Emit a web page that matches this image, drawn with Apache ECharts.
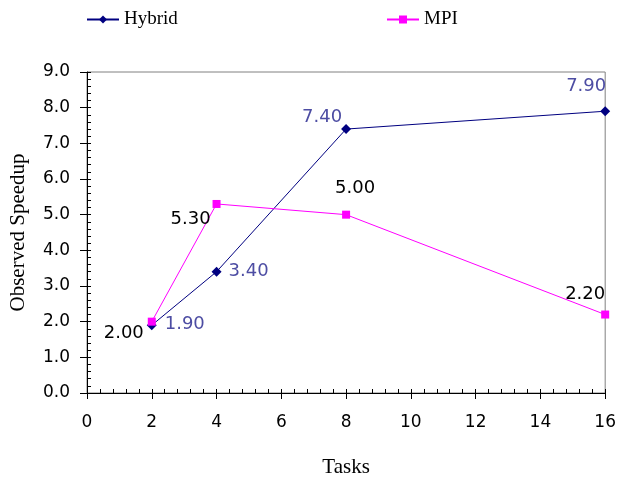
<!DOCTYPE html>
<html><head><meta charset="utf-8">
<script src="https://cdn.jsdelivr.net/npm/echarts@6/dist/echarts.min.js"></script>
<style>html,body{margin:0;padding:0;background:#fff}#c{width:619px;height:483px}</style>
</head><body><div id="c"></div>
<script>
const tasks = [2, 4, 8, 16];
const hybrid = [1.9, 3.4, 7.4, 7.9];
const mpi = [2.0, 5.3, 5.0, 2.2];
const seriesNames = ['Hybrid', 'MPI'];
const xTitle = 'Tasks';
const yTitle = 'Observed Speedup';

// label placement (style, not data)
const hybridLabelOffsets = [[33, -1], [32, 0], [-24, -12], [-19, -25]];
const mpiLabelOffsets = [[-28, 12], [-26, 15], [9, -26], [-20, -20]];

const sans = 'DejaVu Sans';
const serif = 'Liberation Serif';

function buildData(vals, offsets) {
  return vals.map((v, i) => ({
    value: [tasks[i], v],
    label: { offset: offsets[i] }
  }));
}
const labelBase = (color) => ({
  show: true, position: 'inside', align: 'center', verticalAlign: 'middle',
  fontFamily: sans, fontSize: 18, color: color,
  formatter: p => p.value[1].toFixed(2)
});

const chart = echarts.init(document.getElementById('c'), null, {renderer: 'canvas'});
const xCommon = {type: 'value', min: 0, max: 16, interval: 2};
const yCommon = {type: 'value', min: 0, max: 9, interval: 1};
const legendCommon = {top: 10, padding: 0, itemWidth: 32, itemHeight: 10, itemGap: 5,
  textStyle: {fontFamily: serif, fontSize: 19, color: '#000'}};
chart.setOption({
  animation: false,
  backgroundColor: '#fff',
  grid: {left: 86, right: 11, top: 72, bottom: 88, show: true, borderColor: '#808080', borderWidth: 1, backgroundColor: 'transparent'},
  legend: [
    Object.assign({data: [seriesNames[0]], left: 86}, legendCommon),
    Object.assign({data: [seriesNames[1]], left: 386}, legendCommon)
  ],
  xAxis: [
    Object.assign({}, xCommon, {
      name: xTitle, nameLocation: 'middle', nameGap: 64,
      nameTextStyle: {fontFamily: serif, fontSize: 21, color: '#000'},
      axisLine: {show: true, onZero: false, lineStyle: {color: '#000', width: 1}},
      axisTick: {show: true, inside: false, length: 6, lineStyle: {color: '#000'}},
      minorTick: {show: false},
      axisLabel: {fontFamily: sans, fontSize: 17, color: '#000', margin: 21},
      splitLine: {show: false}
    }),
    Object.assign({}, xCommon, {
      position: 'bottom',
      axisLine: {show: false},
      axisTick: {show: true, inside: true, length: 4, lineStyle: {color: '#000'}},
      minorTick: {show: true, splitNumber: 5, length: 4, lineStyle: {color: '#000'}},
      axisLabel: {show: false},
      splitLine: {show: false}
    })
  ],
  yAxis: [
    Object.assign({}, yCommon, {
      name: yTitle, nameLocation: 'middle', nameGap: 58,
      nameTextStyle: {fontFamily: serif, fontSize: 21, color: '#000'},
      axisLine: {show: true, onZero: false, lineStyle: {color: '#000', width: 1}},
      axisTick: {show: true, inside: false, length: 7, lineStyle: {color: '#000'}},
      minorTick: {show: false},
      axisLabel: {fontFamily: sans, fontSize: 17, color: '#000', margin: 17, formatter: v => v.toFixed(1)},
      splitLine: {show: false}
    }),
    Object.assign({}, yCommon, {
      position: 'left',
      axisLine: {show: false},
      axisTick: {show: true, inside: true, length: 4, lineStyle: {color: '#000'}},
      minorTick: {show: true, splitNumber: 5, length: 4, lineStyle: {color: '#000'}},
      axisLabel: {show: false},
      splitLine: {show: false}
    })
  ],
  series: [
    {
      name: seriesNames[0], type: 'line', xAxisIndex: 0, yAxisIndex: 0,
      data: buildData(hybrid, hybridLabelOffsets),
      symbol: 'diamond', symbolSize: [10, 10], showAllSymbol: true,
      itemStyle: {color: '#000080'},
      lineStyle: {color: '#000080', width: 1},
      label: labelBase('#4d4da3'),
      emphasis: {disabled: true}
    },
    {
      name: seriesNames[1], type: 'line', xAxisIndex: 0, yAxisIndex: 0,
      data: buildData(mpi, mpiLabelOffsets),
      symbol: 'rect', symbolSize: [8, 8], showAllSymbol: true,
      itemStyle: {color: '#ff00ff'},
      lineStyle: {color: '#ff00ff', width: 1},
      label: labelBase('#000'),
      emphasis: {disabled: true}
    }
  ]
});
</script>
</body></html>
